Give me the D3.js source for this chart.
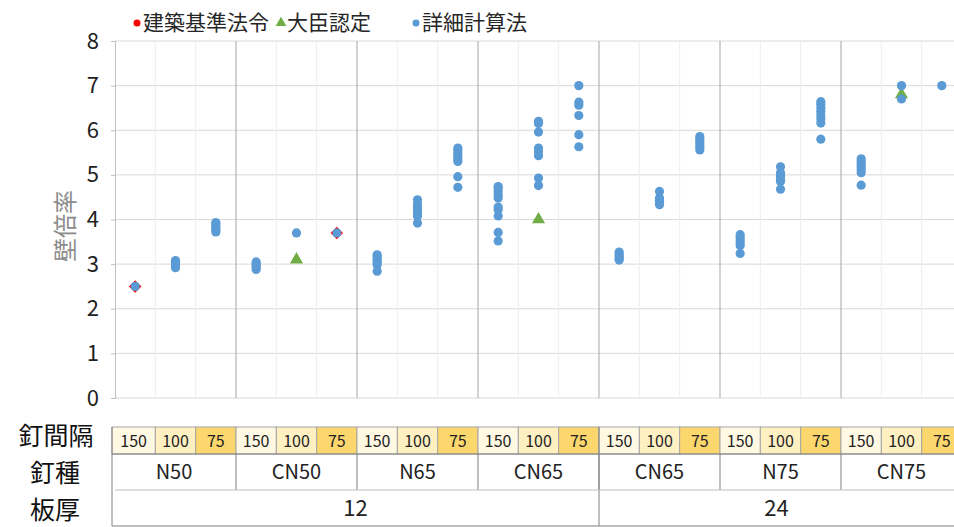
<!DOCTYPE html>
<html>
<head>
<meta charset="utf-8">
<script src="https://cdn.jsdelivr.net/npm/d3@7"></script>
<style>
  html, body { margin: 0; padding: 0; background: #fff; }
  svg { display: block; font-family: "Noto Sans CJK JP", "Noto Sans", sans-serif; }
</style>
</head>
<body>
<svg id="chart" width="954" height="527"></svg>
<script>
// ---- data ----
const nailTypes = ["N50", "CN50", "N65", "CN65", "CN65", "N75", "CN75"];
const nailSpacing = ["150", "100", "75"];
const thicknessLabels = ["12", "24"];
const thicknessSpan = [4, 3];
const yTicks = [0, 1, 2, 3, 4, 5, 6, 7, 8];
const legendLabels = ["建築基準法令", "大臣認定", "詳細計算法"];

// 詳細計算法 (values per column, 21 columns = 7 nail types x 3 spacings)
const detailed = [
  [2.5],
  [2.92, 2.96, 3.0, 3.04, 3.08],
  [3.72, 3.76, 3.8, 3.85, 3.9, 3.93],
  [2.88, 2.93, 2.97, 3.01, 3.05],
  [3.7],
  [3.7],
  [2.84, 2.98, 3.03, 3.08, 3.13, 3.18, 3.21],
  [3.92, 4.08, 4.15, 4.22, 4.28, 4.35, 4.44],
  [4.72, 4.96, 5.3, 5.35, 5.42, 5.48, 5.55, 5.6],
  [3.52, 3.71, 4.08, 4.22, 4.28, 4.48, 4.55, 4.62, 4.7, 4.74],
  [4.76, 4.93, 5.43, 5.52, 5.6, 5.96, 6.15, 6.2],
  [5.63, 5.9, 6.33, 6.56, 6.63, 7.0],
  [3.09, 3.13, 3.17, 3.22, 3.27],
  [4.33, 4.38, 4.43, 4.48, 4.63],
  [5.56, 5.62, 5.68, 5.74, 5.8, 5.86],
  [3.24, 3.42, 3.48, 3.54, 3.6, 3.66],
  [4.68, 4.85, 4.9, 4.95, 5.0, 5.05, 5.18],
  [5.8, 6.16, 6.25, 6.33, 6.42, 6.5, 6.58, 6.64],
  [4.77, 5.05, 5.12, 5.18, 5.24, 5.3, 5.36],
  [6.7, 7.0],
  [7.0]
];
// 建築基準法令
const lawCols = [0, 5];
const lawValues = [2.5, 3.7];
// 大臣認定
const ministerCols = [4, 10, 19];
const ministerValues = [3.1, 4.0, 6.8];

// ---- chart ----
const svg = d3.select("#chart");
const nCols = nailTypes.length * nailSpacing.length;
const x = d3.scaleBand().domain(d3.range(nCols)).range([115, 962]).padding(0);
const y = d3.scaleLinear().domain([0, 8]).range([398, 41]);
const bw = x.bandwidth();
const cx = i => x(i) + bw / 2;
const colColors = ["#fff8e3", "#fff0c2", "#fcd76e"];

// gridlines
const grid = svg.append("g");
grid.selectAll("line.h").data(yTicks).join("line")
  .attr("x1", 115).attr("x2", 954)
  .attr("y1", d => y(d)).attr("y2", d => y(d))
  .attr("stroke", "#d9d9d9").attr("stroke-width", 1);
grid.selectAll("line.v").data(d3.range(1, nCols)).join("line")
  .attr("x1", d => x(d)).attr("x2", d => x(d))
  .attr("y1", y(8)).attr("y2", y(0))
  .attr("stroke", d => d % 3 === 0 ? "#a6a6a6" : "#eeeeee")
  .attr("stroke-width", 1);

// y axis
const yAxis = d3.axisLeft(y).tickValues(yTicks).tickSize(4).tickPadding(12);
const ya = svg.append("g").attr("transform", "translate(115,0)").call(yAxis);
ya.select(".domain").attr("stroke", "#bfbfbf");
ya.selectAll(".tick line").attr("stroke", "#bfbfbf");
ya.selectAll(".tick text").attr("font-size", 22).attr("fill", "#222")
  .attr("font-family", "'Noto Sans CJK JP', sans-serif");

svg.append("text")
  .attr("transform", "translate(74,226) rotate(-90)")
  .attr("text-anchor", "middle")
  .attr("font-size", 24).attr("fill", "#8c8c8c")
  .text("壁倍率");

// marks: law (red diamond)
const lawData = lawCols.map((c, i) => ({ c, v: lawValues[i] }));
svg.append("g").selectAll("path").data(lawData).join("path")
  .attr("d", d3.symbol().type(d3.symbolDiamond2).size(100))
  .attr("transform", d => `translate(${cx(d.c)},${y(d.v)})`)
  .attr("fill", "#ff0000");

// minister (green triangle)
const minData = ministerCols.map((c, i) => ({ c, v: ministerValues[i] }));
svg.append("g").selectAll("path").data(minData).join("path")
  .attr("d", d3.symbol().type(d3.symbolTriangle).size(75))
  .attr("transform", d => `translate(${cx(d.c)},${y(d.v)})`)
  .attr("fill", "#70ad47");

// detailed (blue circles)
const detData = detailed.flatMap((arr, c) => arr.map(v => ({ c, v })));
svg.append("g").selectAll("circle").data(detData).join("circle")
  .attr("cx", d => cx(d.c)).attr("cy", d => y(d.v)).attr("r", 4.6)
  .attr("fill", "#5b9bd5");

// legend
const lg = svg.append("g").attr("font-size", 21).attr("fill", "#262626");
lg.append("circle").attr("cx", 137).attr("cy", 23).attr("r", 3.5).attr("fill", "#ff0000");
lg.append("text").attr("x", 143).attr("y", 30).text(legendLabels[0]);
lg.append("path").attr("d", d3.symbol().type(d3.symbolTriangle).size(50))
  .attr("transform", "translate(281,23)").attr("fill", "#70ad47");
lg.append("text").attr("x", 287).attr("y", 30).text(legendLabels[1]);
lg.append("circle").attr("cx", 416).attr("cy", 23).attr("r", 3.5).attr("fill", "#5b9bd5");
lg.append("text").attr("x", 422).attr("y", 30).text(legendLabels[2]);

// ---- table ----
const tb = svg.append("g");
const r1 = 427, r2 = 454, r3 = 490, r4 = 526, tLeft = 112;
const cellL = i => (i === 0 ? tLeft : x(i));
// row 1 cells
tb.selectAll("rect.sp").data(d3.range(nCols)).join("rect")
  .attr("x", d => cellL(d)).attr("y", r1)
  .attr("width", d => x(d) + bw - cellL(d)).attr("height", r2 - r1)
  .attr("fill", d => colColors[d % 3])
  .attr("stroke", "#a6a6a6").attr("stroke-width", 1);
tb.selectAll("text.sp").data(d3.range(nCols)).join("text")
  .attr("x", d => cx(d) + (d === 0 ? -1.5 : 0)).attr("y", r2 - 7)
  .attr("text-anchor", "middle").attr("font-size", 16).attr("fill", "#222")
  .text(d => nailSpacing[d % 3]);
// row 2
tb.selectAll("text.nt").data(nailTypes).join("text")
  .attr("x", (d, i) => (cellL(i * 3) + x(i * 3 + 2) + bw) / 2)
  .attr("y", (r2 + r3) / 2 + 7)
  .attr("text-anchor", "middle").attr("font-size", 20).attr("fill", "#222")
  .text(d => d);
tb.selectAll("line.nt").data(d3.range(1, nailTypes.length)).join("line")
  .attr("x1", d => x(d * 3)).attr("x2", d => x(d * 3))
  .attr("y1", r2).attr("y2", r3)
  .attr("stroke", "#808080");
// row 3
let acc = 0;
const thickData = thicknessLabels.map((t, i) => {
  const s = acc; acc += thicknessSpan[i] * 3;
  return { t, s, e: acc };
});
tb.selectAll("text.th").data(thickData).join("text")
  .attr("x", d => (cellL(d.s) + Math.min(954, x(d.e - 1) + bw)) / 2)
  .attr("y", (r3 + r4) / 2 + 8)
  .attr("text-anchor", "middle").attr("font-size", 22).attr("fill", "#222")
  .text(d => d.t);
tb.selectAll("line.th").data(thickData.slice(1)).join("line")
  .attr("x1", d => x(d.s)).attr("x2", d => x(d.s))
  .attr("y1", r1).attr("y2", r4).attr("stroke", "#808080");
// borders
tb.append("line").attr("x1", tLeft).attr("x2", 954).attr("y1", r2).attr("y2", r2).attr("stroke", "#808080");
tb.append("line").attr("x1", 115).attr("x2", 954).attr("y1", r3).attr("y2", r3).attr("stroke", "#bfbfbf");
tb.append("line").attr("x1", tLeft).attr("x2", 954).attr("y1", r4).attr("y2", r4).attr("stroke", "#808080");
tb.append("line").attr("x1", tLeft).attr("x2", tLeft).attr("y1", r1).attr("y2", r4).attr("stroke", "#808080");

// row labels
const rowLabels = [["釘間隔", 56, 445], ["釘種", 55, 482], ["板厚", 55, 519]];
svg.append("g").selectAll("text").data(rowLabels).join("text")
  .attr("x", d => d[1]).attr("y", d => d[2])
  .attr("text-anchor", "middle").attr("font-size", 25).attr("fill", "#111")
  .text(d => d[0]);
</script>
</body>
</html>
